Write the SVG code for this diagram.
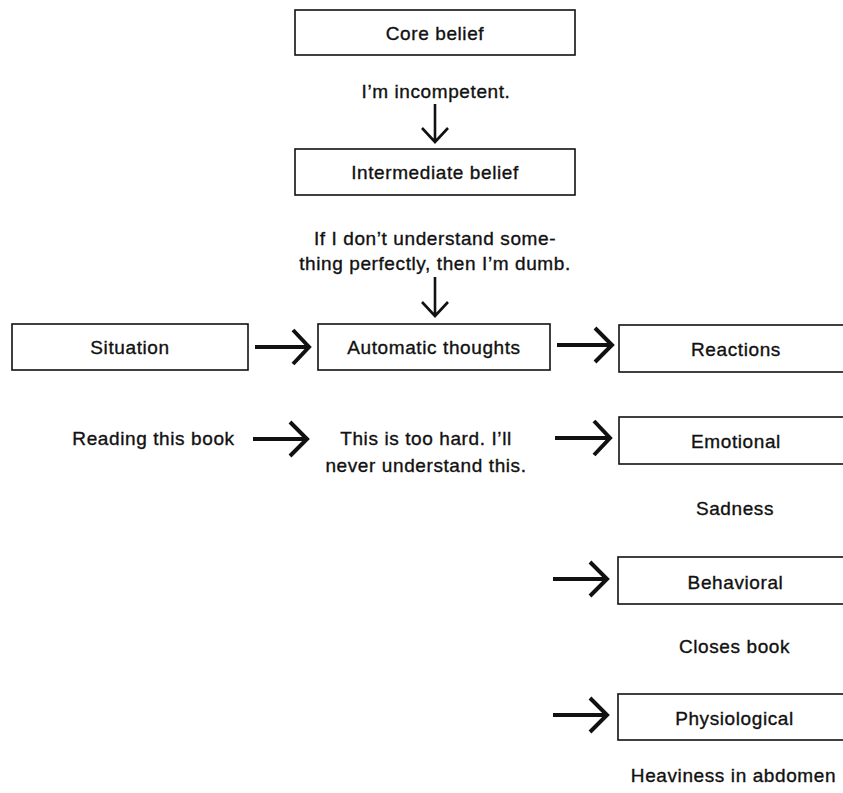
<svg xmlns="http://www.w3.org/2000/svg" width="843" height="793" viewBox="0 0 843 793">
<style>
.box{fill:#fff;stroke:#111;stroke-width:1.6}
.t{font-family:"Liberation Sans",Arial,Helvetica,sans-serif;font-size:19px;letter-spacing:0.6px;fill:#111;stroke:#111;stroke-width:0.35;text-anchor:middle}
.ha{fill:none;stroke:#111;stroke-width:4;stroke-linejoin:miter;stroke-linecap:butt}
.va{fill:none;stroke:#111;stroke-width:2.6;stroke-linejoin:miter;stroke-linecap:butt}
</style>
<rect width="843" height="793" fill="#fff"/>
<g id="core-belief"><rect class="box" x="295" y="10" width="280" height="45"/><text class="t" x="435" y="39.5">Core belief</text></g>
<g id="core-belief-text"><text class="t" x="436" y="98">I’m incompetent.</text></g>
<g id="intermediate-belief"><rect class="box" x="295" y="149" width="280" height="46"/><text class="t" x="435" y="179">Intermediate belief</text></g>
<g id="intermediate-belief-text"><text class="t" x="435" y="245">If I don’t understand some-</text><text class="t" x="435" y="270">thing perfectly, then I’m dumb.</text></g>
<g id="situation"><rect class="box" x="12" y="324" width="236" height="46"/><text class="t" x="130" y="354">Situation</text></g>
<g id="automatic-thoughts"><rect class="box" x="318" y="324" width="232" height="46"/><text class="t" x="434" y="354">Automatic thoughts</text></g>
<g id="reactions"><rect class="box" x="619" y="325" width="240" height="47"/><text class="t" x="736" y="356">Reactions</text></g>
<g id="situation-text"><text class="t" x="153.5" y="445">Reading this book</text></g>
<g id="thoughts-text"><text class="t" x="426" y="445">This is too hard. I’ll</text><text class="t" x="426" y="472">never understand this.</text></g>
<g id="emotional"><rect class="box" x="619" y="417" width="240" height="47"/><text class="t" x="736" y="448">Emotional</text></g>
<g id="emotional-text"><text class="t" x="735" y="515">Sadness</text></g>
<g id="behavioral"><rect class="box" x="618" y="557" width="240" height="47"/><text class="t" x="735.5" y="589">Behavioral</text></g>
<g id="behavioral-text"><text class="t" x="734.5" y="653">Closes book</text></g>
<g id="physiological"><rect class="box" x="618" y="694" width="240" height="46"/><text class="t" x="734.5" y="725">Physiological</text></g>
<g id="physiological-text"><text class="t" x="733.5" y="782">Heaviness in abdomen</text></g>
<g id="connectors">
<path class="va" d="M435,104 V142 M422,128 L435,142 L448,128"/>
<path class="va" d="M435,277 V316 M422,302 L435,316 L448,302"/>
<path class="ha" d="M255,347 H308 M293,330 L309,347 L293,364"/>
<path class="ha" d="M557,345 H611 M595,328 L612,345 L595,362"/>
<path class="ha" d="M253,439 H306 M290,422 L307,439 L290,456"/>
<path class="ha" d="M555,438 H609 M594,421 L610,438 L594,455"/>
<path class="ha" d="M553,579 H607 M590,562 L607,579 L590,596"/>
<path class="ha" d="M553,715 H607 M590,698 L607,715 L590,732"/>
</g>
</svg>
